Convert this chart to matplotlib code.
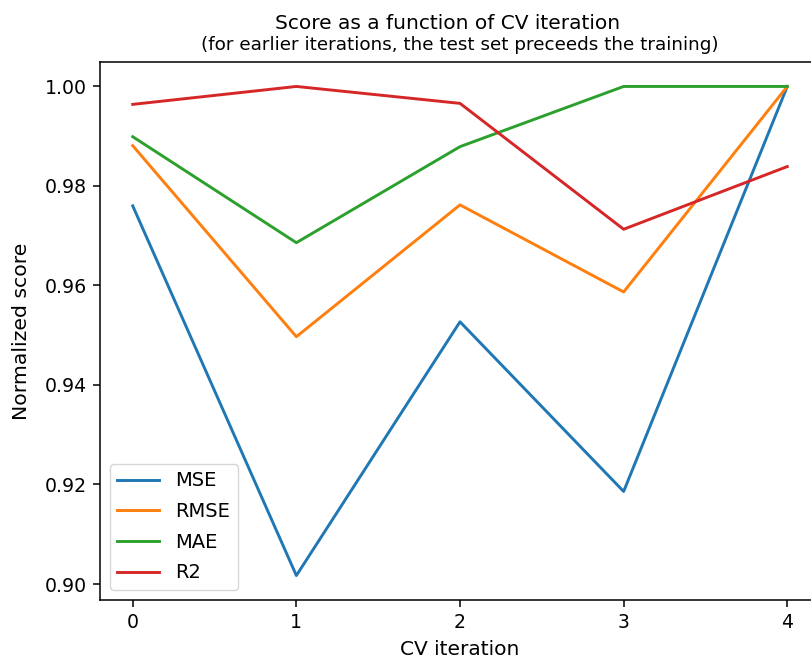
import matplotlib
matplotlib.use("Agg")
import matplotlib.pyplot as plt

iterations = [0, 1, 2, 3, 4]
mse = [0.9760, 0.9017, 0.9527, 0.9186, 1.0000]
rmse = [0.9881, 0.9497, 0.9762, 0.9587, 1.0000]
mae = [0.9899, 0.9686, 0.9879, 1.0000, 1.0000]
r2 = [0.9964, 1.0000, 0.9966, 0.9713, 0.9839]

W, H = 812, 660
fig = plt.figure(figsize=(W / 100, H / 100), dpi=100)
ax = fig.add_axes([100 / W, 60 / H, 720 / W, 538 / H])

ax.plot(iterations, mse, label="MSE", lw=2.1)
ax.plot(iterations, rmse, label="RMSE", lw=2.1)
ax.plot(iterations, mae, label="MAE", lw=2.1)
ax.plot(iterations, r2, label="R2", lw=2.1)

ax.set_xticks(iterations)
ax.tick_params(labelsize=13.6, length=4.9, width=1.1, pad=4.5)
for s in ax.spines.values():
    s.set_linewidth(1.1)
ax.set_xlabel("CV iteration", fontsize=14.5, labelpad=6)
ax.set_ylabel("Normalized score", fontsize=14.7, labelpad=10)
ax.set_title("(for earlier iterations, the test set preceeds the training)",
             fontsize=13.2, pad=8.8)
fig.text(447.5 / W, 1 - 29 / H, "Score as a function of CV iteration",
         fontsize=14.5, ha="center", va="baseline")
ax.legend(loc="lower left", fontsize=14, handlelength=2.15, labelspacing=0.6)

fig.savefig("out.png", dpi=100)
